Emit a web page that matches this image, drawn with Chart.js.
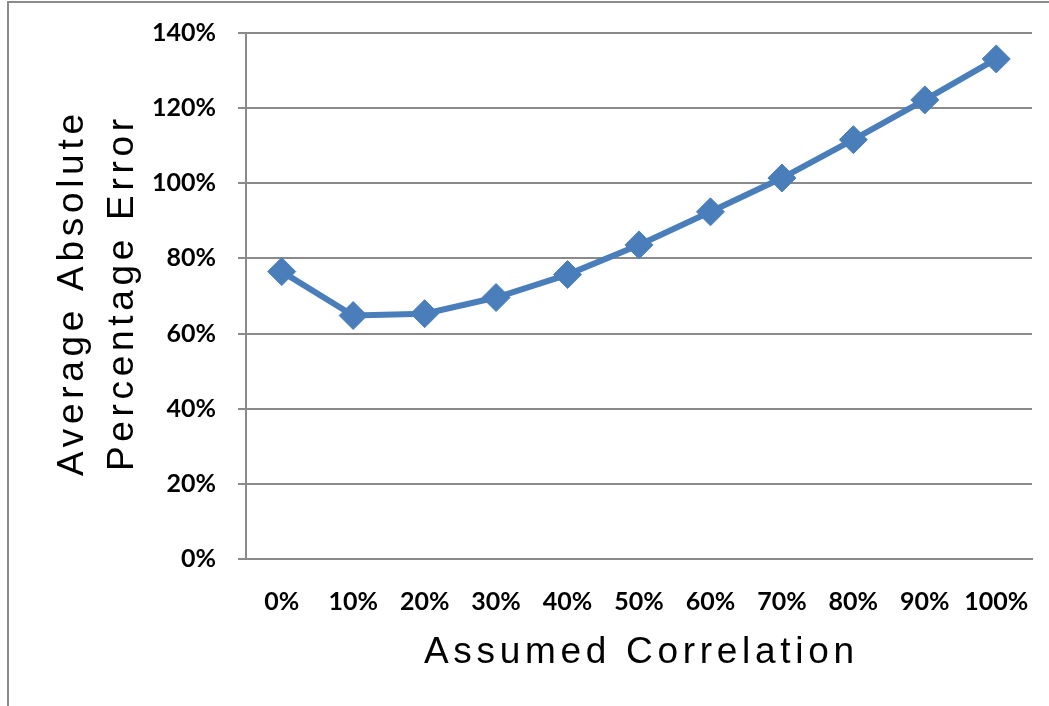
<!DOCTYPE html>
<html>
<head>
<meta charset="utf-8">
<title>Average Absolute Percentage Error vs Assumed Correlation</title>
<script src="https://cdn.jsdelivr.net/npm/chart.js@4.4.1/dist/chart.umd.min.js"></script>
<style>
  html, body { margin: 0; padding: 0; background: #ffffff; overflow: hidden; }
  #wrap { width: 1049px; height: 706px; }
</style>
</head>
<body>
<div id="wrap"><canvas id="chart" width="1049" height="706"></canvas></div>
<script>
// Category labels along the x axis (assumed correlation)
const correlationLabels = ['0%', '10%', '20%', '30%', '40%', '50%', '60%', '70%', '80%', '90%', '100%'];
// Average absolute percentage error, in percent
const errorValues = [76.5, 64.8, 65.3, 69.6, 75.7, 83.6, 92.4, 101.4, 111.6, 122.2, 133.1];
// Y axis range and step, in percent
const yMin = 0;
const yMax = 140;
const yStep = 20;
// Axis titles
const xTitle = 'Assumed Correlation';
const yTitleLines = ['Average Absolute', 'Percentage Error'];

const GRID = '#8a8a8a';
const BLUE = '#4A7EBB';

// Outer frame and spaced-out axis titles
const decorPlugin = {
  id: 'decor',
  beforeDraw(chart) {
    const ctx = chart.ctx;
    ctx.save();
    ctx.strokeStyle = GRID;
    ctx.lineWidth = 2;
    ctx.beginPath();
    ctx.moveTo(8, chart.height);
    ctx.lineTo(8, 2);
    ctx.lineTo(chart.width, 2);
    ctx.stroke();
    ctx.restore();
  },
  afterDraw(chart) {
    const ctx = chart.ctx;
    const area = chart.chartArea;
    const spacing = 4.7;
    ctx.save();
    ctx.fillStyle = '#000000';
    ctx.font = '37px "Liberation Sans", Arial, sans-serif';
    ctx.letterSpacing = spacing + 'px';
    ctx.textAlign = 'center';
    ctx.textBaseline = 'alphabetic';
    const cx = (area.left + area.right) / 2 + spacing / 2;
    ctx.fillText(xTitle, cx, 663);

    // Rotated two-line y title
    const cy = 295;
    ctx.translate(0, cy);
    ctx.rotate(-Math.PI / 2);
    ctx.fillText(yTitleLines[0], spacing / 2, 83);
    ctx.fillText(yTitleLines[1], spacing / 2, 133);
    ctx.restore();
  }
};

const tickFont = { family: 'Lato, "Open Sans", sans-serif', size: 25, weight: 'bold' };

new Chart(document.getElementById('chart'), {
  type: 'line',
  data: {
    labels: correlationLabels,
    datasets: [{
      data: errorValues,
      borderColor: BLUE,
      backgroundColor: BLUE,
      borderWidth: 6,
      tension: 0,
      pointStyle: 'rectRot',
      pointRadius: 14,
      pointHoverRadius: 14,
      pointBackgroundColor: BLUE,
      pointBorderColor: BLUE,
      pointBorderWidth: 1
    }]
  },
  options: {
    responsive: false,
    animation: false,
    devicePixelRatio: 1,
    layout: { padding: { left: 0, right: 16, top: 0, bottom: 0 } },
    plugins: {
      legend: { display: false },
      tooltip: { enabled: false },
      title: { display: false }
    },
    scales: {
      x: {
        type: 'category',
        offset: true,
        grid: { display: false },
        border: { display: true, color: GRID, width: 2 },
        ticks: { color: '#000000', font: tickFont, padding: 20, maxRotation: 0, autoSkip: false },
        afterFit(scale) { scale.height = 147; }
      },
      y: {
        min: yMin,
        max: yMax,
        grid: { color: GRID, lineWidth: 2, drawTicks: true, tickLength: 8, tickColor: GRID },
        border: { display: true, color: GRID, width: 2 },
        ticks: {
          stepSize: yStep,
          color: '#000000',
          font: tickFont,
          padding: 22,
          callback: (v) => v + '%'
        },
        afterFit(scale) {
          scale.width = 246;
          scale.paddingTop = 33;
          scale.paddingBottom = 0;
        }
      }
    }
  },
  plugins: [decorPlugin]
});
</script>
</body>
</html>
